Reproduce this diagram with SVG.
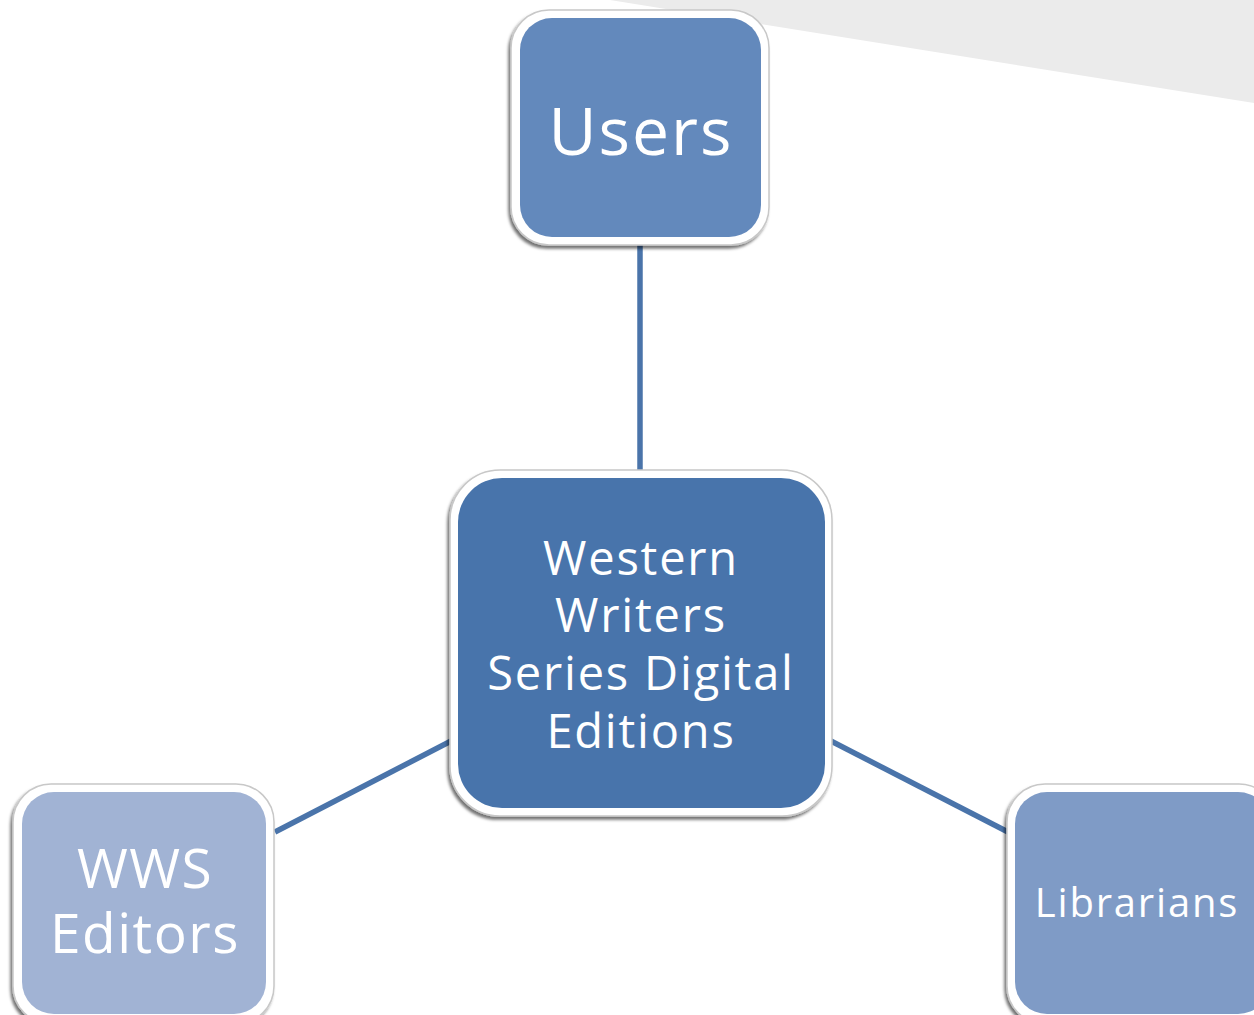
<svg xmlns="http://www.w3.org/2000/svg" width="1254" height="1015" viewBox="0 0 1254 1015">
<defs>
<style>
.outer{fill:#ffffff;stroke:#c8c8c8;stroke-width:1.5}
.lbl{font-family:"Open Sans","DejaVu Sans",sans-serif;fill:#ffffff;text-anchor:middle}
.conn{stroke:#4a74aa;stroke-width:5.5;fill:none}
</style>
<filter id="sh" x="-10%" y="-10%" width="120%" height="120%">
<feDropShadow dx="-2" dy="3" stdDeviation="1.5" flood-color="#000" flood-opacity="0.55"/>
</filter>
</defs>
<rect width="1254" height="1015" fill="#ffffff"/>
<polygon points="610,0 1254,0 1254,103" fill="#ebebeb"/>
<g id="connectors">
<line class="conn" x1="640" y1="245" x2="640" y2="472"/>
<line class="conn" x1="275" y1="832" x2="453" y2="740"/>
<line class="conn" x1="829" y1="740" x2="1008" y2="832"/>
</g>
<g id="users">
<rect class="outer" x="511" y="10" width="258" height="235" rx="38" filter="url(#sh)"/>
<rect x="520" y="18" width="241" height="219" rx="32" fill="#6389bc"/>
<text class="lbl" x="641" y="155" font-size="66" letter-spacing="2">Users</text>
</g>
<g id="wwsde">
<rect class="outer" x="450" y="470" width="382" height="346" rx="50" filter="url(#sh)"/>
<rect x="458" y="478" width="367" height="330" rx="44" fill="#4874ab"/>
<text class="lbl" font-size="47" letter-spacing="1.8"><tspan x="641" y="575">Western</tspan><tspan x="641" y="632">Writers</tspan><tspan x="641" y="690">Series Digital</tspan><tspan x="641" y="748">Editions</tspan></text>
</g>
<g id="editors">
<rect class="outer" x="13" y="784" width="261" height="240" rx="38" filter="url(#sh)"/>
<rect x="22" y="792" width="244" height="222" rx="32" fill="#a1b3d4"/>
<text class="lbl" font-size="55" letter-spacing="1.5"><tspan x="145" y="888">WWS</tspan><tspan x="145" y="953">Editors</tspan></text>
</g>
<g id="librarians">
<rect class="outer" x="1007" y="784" width="270" height="240" rx="38" filter="url(#sh)"/>
<rect x="1015" y="792" width="255" height="222" rx="32" fill="#7f9bc6"/>
<text class="lbl" x="1137" y="917" font-size="40" letter-spacing="1.8">Librarians</text>
</g>
</svg>
